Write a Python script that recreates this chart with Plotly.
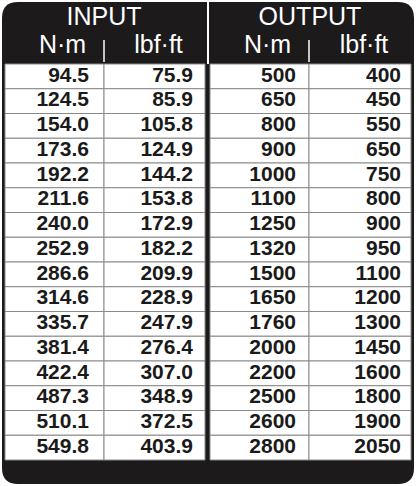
import plotly.graph_objects as go

input_nm = ["94.5","124.5","154.0","173.6","192.2","211.6","240.0","252.9","286.6","314.6","335.7","381.4","422.4","487.3","510.1","549.8"]
input_lbf = ["75.9","85.9","105.8","124.9","144.2","153.8","172.9","182.2","209.9","228.9","247.9","276.4","307.0","348.9","372.5","403.9"]
output_nm = ["500","650","800","900","1000","1100","1250","1320","1500","1650","1760","2000","2200","2500","2600","2800"]
output_lbf = ["400","450","550","650","750","800","900","950","1100","1200","1300","1450","1600","1800","1900","2050"]
groups = ["INPUT", "OUTPUT"]
units = ["N·m", "lbf·ft"]

W, H = 416, 486
top, bottom = 64, 460
n = len(input_nm)
rh = (bottom - top) / n
cols = [(5, 104), (104, 205), (210, 309), (309, 411)]
right_edges = [89, 193, 296, 401]

shapes = []
x0, y0, x1, y1, r = 2, 2, 414, 484, 16
shapes.append(dict(type="path", xref="x", yref="y",
    path=f"M{x0+r},{y0} L{x1-r},{y0} Q{x1},{y0} {x1},{y0+r} L{x1},{y1-r} Q{x1},{y1} {x1-r},{y1} L{x0+r},{y1} Q{x0},{y1} {x0},{y1-r} L{x0},{y0+r} Q{x0},{y0} {x0+r},{y0} Z",
    fillcolor="#1c1a1b", line=dict(width=0), layer="below"))
for (a, b) in cols:
    for i in range(n):
        shapes.append(dict(type="rect", xref="x", yref="y", x0=a, x1=b,
                           y0=top + i*rh, y1=top + (i+1)*rh,
                           fillcolor="white", line=dict(color="#8a8a8a", width=1), layer="below"))
shapes.append(dict(type="line", xref="x", yref="y", x0=208, x1=208, y0=0, y1=top,
                   line=dict(color="white", width=2)))
for xs in (104, 309):
    shapes.append(dict(type="line", xref="x", yref="y", x0=xs, x1=xs, y0=40, y1=62,
                       line=dict(color="white", width=1.5)))

fig = go.Figure()
for ci, col in enumerate([input_nm, input_lbf, output_nm, output_lbf]):
    fig.add_trace(go.Scatter(
        x=[right_edges[ci]]*n, y=[top + (i+0.5)*rh for i in range(n)],
        mode="text", text=col, textposition="middle left",
        textfont=dict(family="Liberation Sans", size=21, color="#1a1a1a", weight="bold"),
        hoverinfo="skip", showlegend=False))

fig.add_trace(go.Scatter(x=[104, 310], y=[19, 19], mode="text", text=groups,
    textposition="middle center",
    textfont=dict(family="Liberation Sans Narrow, Liberation Sans", size=25, color="white"),
    hoverinfo="skip", showlegend=False))
ux = [(5+104)/2 + 8, (104+205)/2 + 4, (210+309)/2 + 8, (309+411)/2 + 4]
fig.add_trace(go.Scatter(x=ux, y=[47]*4, mode="text", text=units*2,
    textposition="middle center",
    textfont=dict(family="Liberation Sans Narrow, Liberation Sans", size=25, color="white"),
    hoverinfo="skip", showlegend=False))

fig.update_layout(width=W, height=H, margin=dict(l=0, r=0, t=0, b=0),
    paper_bgcolor="white", plot_bgcolor="white", shapes=shapes,
    xaxis=dict(range=[0, W], visible=False, fixedrange=True),
    yaxis=dict(range=[H, 0], visible=False, fixedrange=True))
fig.write_html("out.html", config={"displayModeBar": False},
               post_script="document.body.style.margin='0';document.body.style.overflow='hidden';")
